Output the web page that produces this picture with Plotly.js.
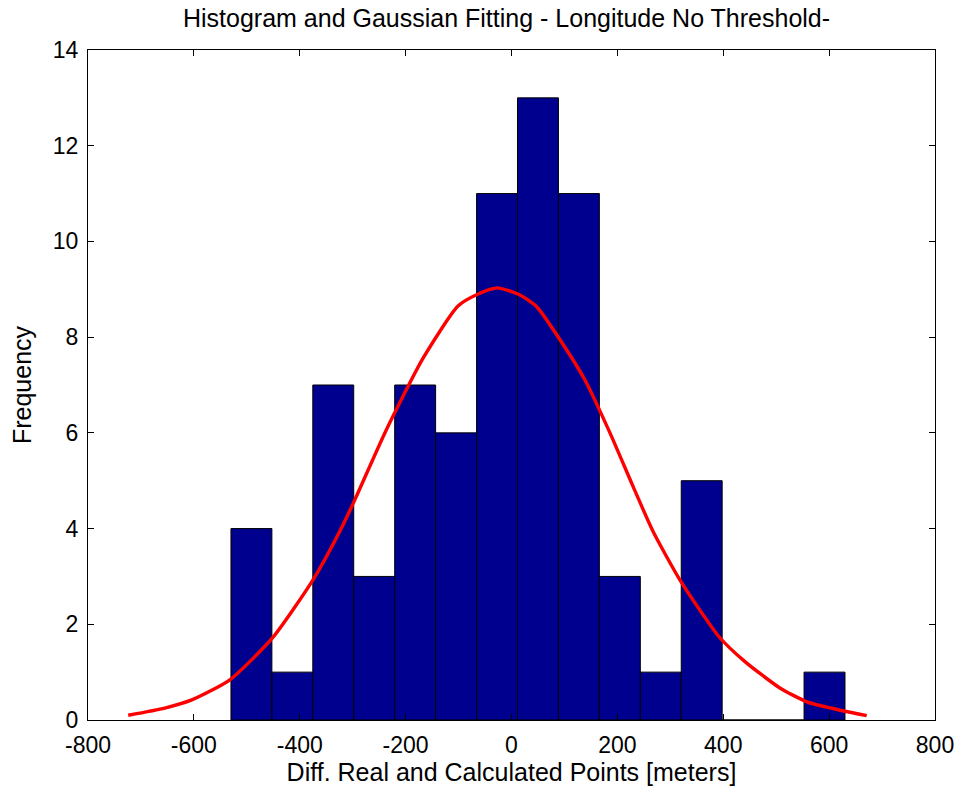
<!DOCTYPE html>
<html>
<head>
<meta charset="utf-8">
<script src="https://cdn.plot.ly/plotly-3.0.1.min.js"></script>
<style>html,body{margin:0;padding:0;background:#fff;}#chart{width:963px;height:793px;}</style>
</head>
<body>
<div id="chart"></div>
<script>
// Histogram bin centers and counts
var binCenters = [-491.3, -414.0, -336.7, -259.3, -182.0, -104.7, -27.3, 50.0, 127.3, 204.7, 282.0, 359.3, 436.7, 514.0, 591.3];
var binCounts  = [4, 1, 7, 3, 7, 6, 11, 13, 11, 3, 1, 5, 0, 0, 1];
// Gaussian fit curve
var fitX = [-724, -655, -604, -532, -452, -375, -320, -296, -237, -167, -101, -63, -27, 16, 48, 92, 139, 186, 230, 267, 318, 392, 441, 507, 558, 615, 671];
var fitY = [0.10, 0.25, 0.42, 0.84, 1.71, 2.93, 4.04, 4.60, 6.05, 7.56, 8.65, 8.90, 9.03, 8.88, 8.63, 7.94, 7.10, 6.00, 4.87, 3.95, 2.93, 1.74, 1.22, 0.67, 0.38, 0.22, 0.09];
var xTicks = [-800, -600, -400, -200, 0, 200, 400, 600, 800];
var yTicks = [0, 2, 4, 6, 8, 10, 12, 14];

var binWidth = binCenters[1] - binCenters[0];
var font = 'Liberation Sans, Arial, Helvetica, sans-serif';
var fs = 23;
var ts = 25;

var traces = [
  {
    type: 'bar', x: binCenters, y: binCounts, width: binWidth,
    marker: {color: 'rgb(0,0,143)', line: {color: '#000', width: 1}},
    hoverinfo: 'x+y'
  },
  {
    type: 'scatter', mode: 'lines', x: fitX, y: fitY,
    line: {color: 'rgb(255,0,0)', width: 3.4, shape: 'spline', smoothing: 0.6}
  }
];

var layout = {
  width: 963, height: 793,
  margin: {l: 88, r: 28, t: 50, b: 73},
  paper_bgcolor: '#fff', plot_bgcolor: '#fff',
  showlegend: false,
  bargap: 0,
  font: {family: font, color: '#000', size: fs},
  title: {text: 'Histogram and Gaussian Fitting - Longitude No Threshold-', font: {family: font, size: ts, color: '#000'}, x: 0.526, xanchor: 'center', y: 0.988, yanchor: 'top'},
  xaxis: {
    range: [-800, 800], tickvals: xTicks, ticktext: xTicks.map(String),
    ticks: 'inside', ticklen: 6, tickcolor: '#000', tickwidth: 1,
    showline: true, linecolor: '#000', linewidth: 1, mirror: 'ticks',
    showgrid: false, zeroline: false, ticklabelstandoff: 4,
    tickfont: {family: font, size: fs, color: '#000'},
    title: {text: 'Diff. Real and Calculated Points [meters]', font: {family: font, size: ts, color: '#000'}, standoff: 3}
  },
  yaxis: {
    range: [0, 14], tickvals: yTicks, ticktext: yTicks.map(String),
    ticks: 'inside', ticklen: 6, tickcolor: '#000', tickwidth: 1,
    showline: true, linecolor: '#000', linewidth: 1, mirror: 'ticks',
    showgrid: false, zeroline: false, ticklabelstandoff: 4,
    tickfont: {family: font, size: fs, color: '#000'},
    title: {text: 'Frequency', font: {family: font, size: ts, color: '#000'}, standoff: 14}
  }
};

Plotly.newPlot('chart', traces, layout, {displayModeBar: false, staticPlot: true});
</script>
</body>
</html>
